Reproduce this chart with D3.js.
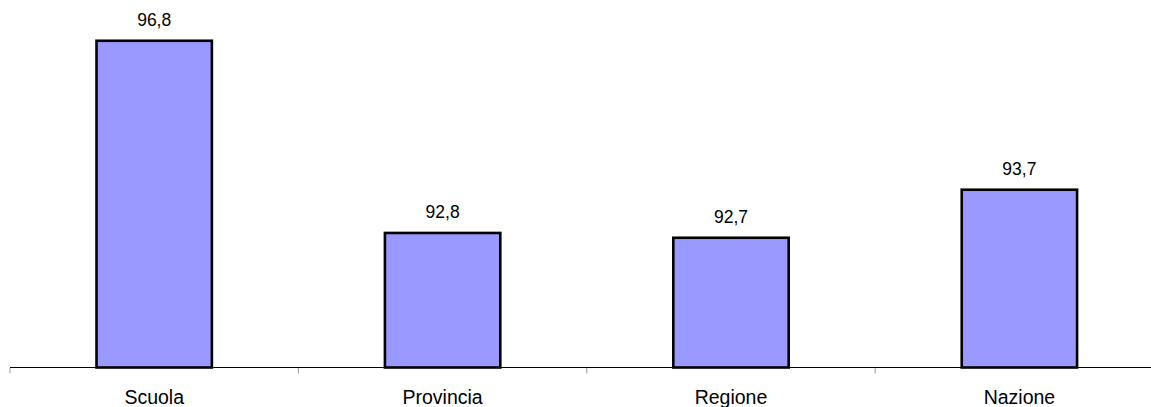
<!DOCTYPE html>
<html>
<head>
<meta charset="utf-8">
<script src="https://cdn.jsdelivr.net/npm/d3@7"></script>
<style>
  html, body { margin: 0; padding: 0; background: #fff; }
  svg { display: block; font-family: "Liberation Sans", Arial, sans-serif; }
</style>
</head>
<body>
<svg id="chart" width="1151" height="407"></svg>
<script>
const categories = ["Scuola", "Provincia", "Regione", "Nazione"];
const values = [96.8, 92.8, 92.7, 93.7];
const yDomain = [90, 97];

const svg = d3.select("#chart");
const baseY = 367.5;

const x = d3.scaleBand().domain(categories).range([10, 1163.6]).padding(0);
const y = d3.scaleLinear().domain(yDomain).range([baseY, baseY - 7 * 48.05]);

const fmt = v => d3.format(".1f")(v).replace(".", ",");
const barW = x.bandwidth() * 0.4;

// bars
svg.append("g").selectAll("rect")
  .data(values)
  .join("rect")
  .attr("x", (d, i) => x(categories[i]) + (x.bandwidth() - barW) / 2)
  .attr("y", d => y(d))
  .attr("width", barW)
  .attr("height", d => baseY - y(d))
  .attr("fill", "#9999FF")
  .attr("stroke", "#000")
  .attr("stroke-width", 2.6);

// value labels
svg.append("g").selectAll("text")
  .data(values)
  .join("text")
  .attr("x", (d, i) => x(categories[i]) + x.bandwidth() / 2)
  .attr("y", d => y(d) - 14.5)
  .attr("text-anchor", "middle")
  .attr("font-size", "17.5px")
  .attr("fill", "#000")
  .text(d => fmt(d));

// axis line
svg.append("line")
  .attr("x1", 10).attr("x2", 1151)
  .attr("y1", baseY).attr("y2", baseY)
  .attr("stroke", "#000").attr("stroke-width", 1.2);

// tick marks at band boundaries
const tickPos = categories.map(c => x(c)).concat([x.range()[1]]);
svg.append("g").selectAll("line")
  .data(tickPos)
  .join("line")
  .attr("x1", d => d).attr("x2", d => d)
  .attr("y1", baseY + 0.5).attr("y2", baseY + 6)
  .attr("stroke", "#999").attr("stroke-width", 1);

// category labels
svg.append("g").selectAll("text")
  .data(categories)
  .join("text")
  .attr("x", d => x(d) + x.bandwidth() / 2)
  .attr("y", 403.5)
  .attr("text-anchor", "middle")
  .attr("font-size", "19.5px")
  .attr("fill", "#000")
  .text(d => d);
</script>
</body>
</html>
